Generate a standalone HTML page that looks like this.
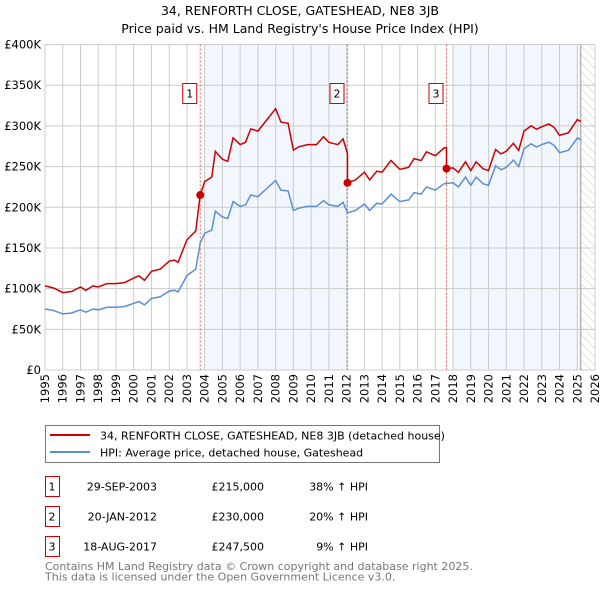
<!DOCTYPE html>
<html><head><meta charset="utf-8"><style>
body{margin:0;background:#fff;font-family:"Liberation Sans","DejaVu Sans",sans-serif}
svg{display:block}
</style></head><body>
<svg width="600" height="590" viewBox="0 0 600 590" xmlns="http://www.w3.org/2000/svg" font-family="DejaVu Sans, Liberation Sans, sans-serif">
<g id="titles">
<text x="300" y="15" text-anchor="middle" font-size="12.5" fill="#000">34, RENFORTH CLOSE, GATESHEAD, NE8 3JB</text>
<text x="300" y="33" text-anchor="middle" font-size="12.5" fill="#000">Price paid vs. HM Land Registry's House Price Index (HPI)</text>
</g>
<g id="bands"></g>
<g id="grid"></g>
<g id="series"></g>
<g id="markers"></g>
<g id="axes"></g>
<g id="legend">
<rect x="45.5" y="425.5" width="394" height="37" fill="#fff" stroke="#777"/>
<line x1="50" y1="435" x2="90" y2="435" stroke="#cc0000" stroke-width="2"/>
<text x="100" y="439.5" font-size="11">34, RENFORTH CLOSE, GATESHEAD, NE8 3JB (detached house)</text>
<line x1="50" y1="452" x2="90" y2="452" stroke="#5b8fd1" stroke-width="2"/>
<text x="100" y="456.5" font-size="11">HPI: Average price, detached house, Gateshead</text>
</g>
<g id="table" font-size="11"></g>
<g fill="#777" font-size="11">
<text x="45" y="570">Contains HM Land Registry data © Crown copyright and database right 2025.</text>
<text x="45" y="580.5">This data is licensed under the Open Government Licence v3.0.</text>
</g>
</svg>
<script>
const hpiYears=[1995,1995.5,1996,1996.5,1997,1997.3,1997.7,1998,1998.5,1999,1999.5,2000,2000.3,2000.6,2001,2001.5,2002,2002.3,2002.5,2003,2003.5,2003.75,2004,2004.4,2004.6,2005,2005.3,2005.6,2006,2006.3,2006.6,2007,2007.5,2008,2008.3,2008.7,2009,2009.3,2009.8,2010.3,2010.7,2011,2011.5,2011.8,2012.05,2012.5,2013,2013.3,2013.7,2014,2014.5,2015,2015.5,2015.8,2016.2,2016.5,2017,2017.5,2018,2018.3,2018.7,2019,2019.3,2019.7,2020,2020.4,2020.7,2021,2021.4,2021.7,2022,2022.4,2022.7,2023,2023.4,2023.7,2024,2024.5,2025,2025.2];
const hpiValues=[75,73,69,70,74,71,75,74,77,77,78,82,84,80,88,90,97,98,96,116,124,156,168,172,195,188,186,207,201,203,215,213,223,233,221,220,196,199,201,201,208,203,201,206,193,196,204,196,205,204,216,207,209,218,216,225,221,229,230,225,237,227,237,229,227,251,246,249,258,250,272,278,274,277,280,276,267,270,285,283];
const saleLabels=["1","2","3"];
const saleDates=[2003.75,2012.05,2017.63];
const salePrices=[215000,230000,247500];
const saleDateText=["29-SEP-2003","20-JAN-2012","18-AUG-2017"];
const salePriceText=["£215,000","£230,000","£247,500"];
const salePctText=["38% ↑ HPI","20% ↑ HPI","9% ↑ HPI"];
const yTicks=[0,50,100,150,200,250,300,350,400];
const yTickLabels=["£0","£50K","£100K","£150K","£200K","£250K","£300K","£350K","£400K"];
const xTicks=[1995,1996,1997,1998,1999,2000,2001,2002,2003,2004,2005,2006,2007,2008,2009,2010,2011,2012,2013,2014,2015,2016,2017,2018,2019,2020,2021,2022,2023,2024,2025,2026];

const NS="http://www.w3.org/2000/svg";
const X0=45,X1=595,Y0=370,Y1=44.5,XMIN=1995,XMAX=2026,YMAX=400;
const xs=t=>X0+(t-XMIN)/(XMAX-XMIN)*(X1-X0);
const ys=v=>Y0-v/YMAX*(Y0-Y1);
function mk(tag,attrs,parent){const e=document.createElementNS(NS,tag);for(const k in attrs)e.setAttribute(k,attrs[k]);parent.appendChild(e);return e;}
function hpiAt(t){for(let i=0;i<hpiYears.length-1;i++){if(t>=hpiYears[i]&&t<=hpiYears[i+1]){const f=(t-hpiYears[i])/(hpiYears[i+1]-hpiYears[i]);return hpiValues[i]+f*(hpiValues[i+1]-hpiValues[i]);}}return hpiValues[hpiValues.length-1];}
const G=id=>document.getElementById(id);

// bands
const lastT=hpiYears[hpiYears.length-1];
const b1s=Math.ceil(saleDates[0]),b1e=Math.floor(saleDates[1]),b3s=Math.ceil(saleDates[2]);
let b=mk('rect',{x:xs(b1s),y:Y1,width:xs(b1e)-xs(b1s),height:Y0-Y1,fill:'#eef3fc',opacity:0.75},G('bands'));


b=mk('rect',{x:xs(b3s),y:Y1,width:xs(lastT)-xs(b3s),height:Y0-Y1,fill:'#eef3fc',opacity:0.75},G('bands'));


const defs=mk('defs',{},G('bands'));
const pat=mk('pattern',{id:'hatch',width:6,height:6,patternUnits:'userSpaceOnUse',patternTransform:'rotate(-45)'},defs);
mk('line',{x1:0,y1:0,x2:0,y2:6,stroke:'#ccc','stroke-width':1},pat);
b=mk('rect',{x:xs(lastT),y:Y1,width:X1-xs(lastT),height:Y0-Y1,fill:'url(#hatch)'},G('bands'));



// grid
xTicks.forEach(t=>{const l=mk('line',{x1:xs(t),y1:Y1,x2:xs(t),y2:Y0,stroke:'#ccc','stroke-width':1},G('grid'));

});
yTicks.forEach(v=>{const l=mk('line',{x1:X0,y1:ys(v),x2:X1,y2:ys(v),stroke:'#ccc','stroke-width':1},G('grid'));

});
const lt=mk('line',{x1:xs(lastT),y1:Y1,x2:xs(lastT),y2:Y0,stroke:'#999','stroke-width':1},G('grid'));



saleDates.forEach((d,i)=>{const l=mk('line',{x1:xs(d),y1:Y1,x2:xs(d),y2:Y0,stroke:'#e06060','stroke-width':1,'stroke-dasharray':'2,2'},G('grid'));

});

// hpi line
let d='';hpiYears.forEach((t,i)=>{d+=(i?'L':'M')+xs(t).toFixed(1)+','+ys(hpiValues[i]).toFixed(1);});
const hl=mk('path',{d:d,fill:'none',stroke:'#5b8fd1','stroke-width':1.5},G('series'));



// property line indexed from sales
function seg(i){return salePrices[i]/1000/hpiAt(saleDates[i]);}
let pts=[];
hpiYears.forEach((t,i)=>{let k=0;for(let j=0;j<saleDates.length;j++)if(t>=saleDates[j])k=j;pts.push([t,hpiValues[i]*seg(k)]);});
saleDates.forEach((sd,j)=>{if(j>0)pts.push([sd-0.0001,hpiAt(sd)*seg(j-1)]);pts.push([sd,salePrices[j]/1000]);});
pts.sort((a,b)=>a[0]-b[0]);
d='';pts.forEach((p,i)=>{d+=(i?'L':'M')+xs(p[0]).toFixed(1)+','+ys(p[1]).toFixed(1);});
const pl=mk('path',{d:d,fill:'none',stroke:'#cc0000','stroke-width':1.5},G('series'));



// markers
saleDates.forEach((sd,i)=>{
const c=mk('circle',{cx:xs(sd),cy:ys(salePrices[i]/1000),r:4,fill:'#cc0000'},G('markers'));


const bx=mk('rect',{x:xs(sd)-17.5,y:83.5,width:14,height:20,fill:'#fff',stroke:'#cc0000'},G('markers'));


const tx=mk('text',{x:xs(sd)-10.5,y:97.5,'text-anchor':'middle','font-size':11},G('markers'));
tx.textContent=saleLabels[i];


});

// axes labels
yTicks.forEach((v,i)=>{const t=mk('text',{x:X0-4,y:ys(v)+4,'text-anchor':'end','font-size':11.5},G('axes'));
t.textContent=yTickLabels[i];

});
xTicks.forEach(v=>{const t=mk('text',{x:0,y:0,'text-anchor':'end','font-size':11.5,transform:'translate('+(xs(v)+4)+',374) rotate(-90)'},G('axes'));
t.textContent=v;

});

// table
saleLabels.forEach((s,i)=>{
const y=476+i*30;
const r=mk('rect',{x:45.5,y:y+0.5,width:14,height:20,fill:'#fff',stroke:'#cc0000'},G('table'));


const cols=[[52,'middle',s],[157,'end',saleDateText[i]],[264,'end',salePriceText[i]],[368,'end',salePctText[i]]];
cols.forEach(c=>{const t=mk('text',{x:c[0],y:y+14.5,'text-anchor':c[1]},G('table'));
t.textContent=c[2];

});
});
</script>
</body></html>
